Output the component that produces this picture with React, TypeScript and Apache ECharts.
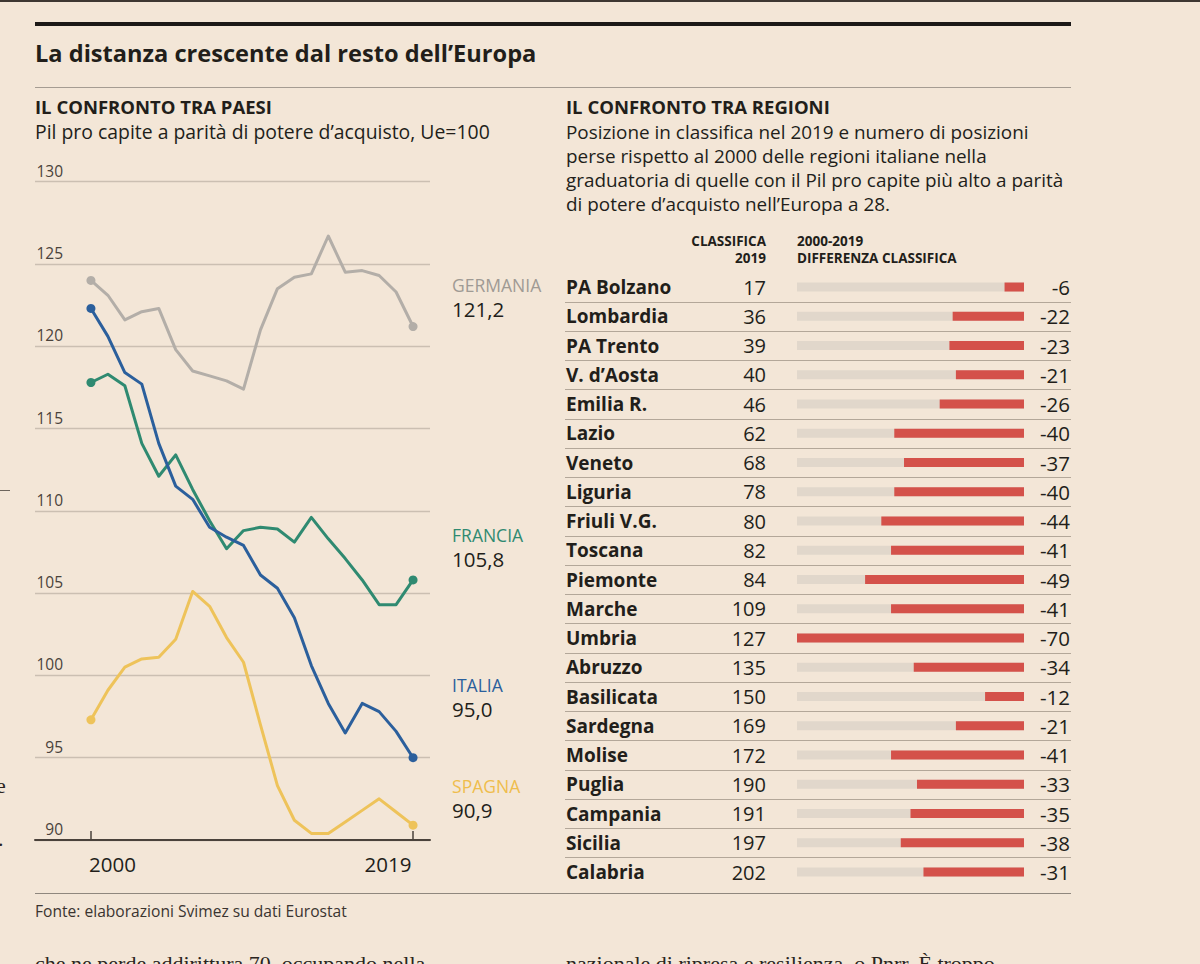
import React, { useEffect, useRef } from "react";
import * as echarts from "echarts";

// ---- Left panel: GDP per capita in PPS, EU = 100 ----
const years = [
  2000, 2001, 2002, 2003, 2004, 2005, 2006, 2007, 2008, 2009,
  2010, 2011, 2012, 2013, 2014, 2015, 2016, 2017, 2018, 2019,
];
const germania = [
  124.0, 123.1, 121.6, 122.1, 122.3, 119.8, 118.5, 118.2, 117.9, 117.4,
  121.0, 123.5, 124.2, 124.4, 126.7, 124.5, 124.6, 124.3, 123.3, 121.2,
];
const francia = [
  117.8, 118.3, 117.6, 114.1, 112.1, 113.4, 111.3, 109.4, 107.7, 108.8,
  109.0, 108.9, 108.1, 109.6, 108.3, 107.1, 105.8, 104.3, 104.3, 105.8,
];
const italia = [
  122.3, 120.6, 118.4, 117.7, 114.1, 111.5, 110.7, 109.0, 108.4, 107.9,
  106.1, 105.3, 103.5, 100.6, 98.3, 96.5, 98.3, 97.8, 96.6, 95.0,
];
const spagna = [
  97.3, 99.1, 100.5, 101.0, 101.1, 102.2, 105.1, 104.2, 102.3, 100.8,
  97.0, 93.3, 91.2, 90.4, 90.4, 91.1, 91.8, 92.5, 91.7, 90.9,
];
const xTickYears = [2000, 2019];

// ---- Right panel: regional ranking ----
const regions = [
  "PA Bolzano", "Lombardia", "PA Trento", "V. d\u2019Aosta", "Emilia R.",
  "Lazio", "Veneto", "Liguria", "Friuli V.G.", "Toscana", "Piemonte",
  "Marche", "Umbria", "Abruzzo", "Basilicata", "Sardegna", "Molise",
  "Puglia", "Campania", "Sicilia", "Calabria",
];
const rank2019 = [
  17, 36, 39, 40, 46, 62, 68, 78, 80, 82, 84,
  109, 127, 135, 150, 169, 172, 190, 191, 197, 202,
];
const rankChange = [
  -6, -22, -23, -21, -26, -40, -37, -40, -44, -41, -49,
  -41, -70, -34, -12, -21, -41, -33, -35, -38, -31,
];

const FONT = "'Open Sans', 'Noto Sans', sans-serif";
const SERIF = "'Liberation Serif', 'DejaVu Serif', serif";
const INK = "#221e1a";
const BG = "#f3e6d7";
const GRID_LINE = "#cbbfb2";
const SEP_LINE = "#b3a799";

const fmt = (v: number) => v.toFixed(1).replace(".", ",");

function countrySeries(
  name: string,
  values: number[],
  color: string,
  labelColor: string,
  labelOffsetY: number
) {
  const last = values.length - 1;
  return {
    type: "line",
    name,
    xAxisIndex: 0,
    yAxisIndex: 0,
    data: years.map((y, i) => [y, values[i]]),
    lineStyle: { color, width: 3, join: "round" },
    itemStyle: { color },
    symbol: "circle",
    showAllSymbol: true,
    symbolSize: (_v: unknown, p: { dataIndex: number }) =>
      p.dataIndex === 0 || p.dataIndex === last ? 9 : 0,
    emphasis: { disabled: true },
    silent: true,
    endLabel: {
      show: true,
      distance: 0,
      offset: [39, labelOffsetY],
      align: "left",
      verticalAlign: "middle",
      formatter: (p: { value: number[] }) =>
        `{n|${name.toUpperCase()}}\n{v|${fmt(p.value[1])}}`,
      rich: {
        n: { fontFamily: FONT, fontSize: 17.5, color: labelColor, lineHeight: 24 },
        v: { fontFamily: FONT, fontSize: 20.5, color: INK, lineHeight: 24 },
      },
    },
  };
}

export default function App() {
  const ref = useRef<HTMLDivElement>(null);

  useEffect(() => {
    document.body.style.margin = "0";
    document.body.style.background = BG;
    if (!ref.current) return;
    const chart = echarts.init(ref.current, undefined, { renderer: "svg" });

    const text = (
      x: number,
      y: number,
      t: string,
      font: string,
      fill = INK,
      align = "left",
      lineHeight?: number
    ) => ({
      type: "text",
      x,
      y,
      silent: true,
      style: {
        text: t,
        font,
        fill,
        textAlign: align,
        textVerticalAlign: "middle",
        ...(lineHeight ? { lineHeight } : {}),
      },
    });

    const paragraph = [
      "Posizione in classifica nel 2019 e numero di posizioni",
      "perse rispetto al 2000 delle regioni italiane nella",
      "graduatoria di quelle con il Pil pro capite pi\u00f9 alto a parit\u00e0",
      "di potere d\u2019acquisto nell\u2019Europa a 28.",
    ];

    chart.setOption({
      animation: false,
      backgroundColor: BG,
      textStyle: { fontFamily: FONT },
      grid: [
        { left: 35, top: 181.7, width: 395, height: 658.3, containLabel: false },
        { left: 797, top: 272.4, width: 227, height: 614.25, containLabel: false },
      ],
      xAxis: [
        {
          type: "value",
          gridIndex: 0,
          min: 1996.7,
          max: 2020,
          splitLine: { show: false },
          axisLine: { show: true, lineStyle: { color: "#4a423b", width: 2 } },
          axisTick: {
            show: true,
            inside: true,
            length: 9,
            customValues: xTickYears,
            lineStyle: { color: "#4a423b", width: 1.5 },
          },
          axisLabel: {
            show: true,
            customValues: xTickYears,
            margin: 13,
            formatter: (v: number) =>
              v === xTickYears[0] ? `{l|${v}}` : `{r|${v}}`,
            rich: {
              l: { fontFamily: FONT, fontSize: 20.5, color: INK, padding: [0, 0, 0, 43] },
              r: { fontFamily: FONT, fontSize: 20.5, color: INK, padding: [0, 50, 0, 0] },
            },
          },
        },
        {
          type: "value",
          gridIndex: 1,
          min: -70,
          max: 0,
          show: false,
        },
      ],
      yAxis: [
        {
          type: "value",
          gridIndex: 0,
          min: 90,
          max: 130,
          interval: 5,
          axisLine: { show: false },
          axisTick: { show: false },
          splitLine: { show: true, lineStyle: { color: GRID_LINE, width: 1.3 } },
          axisLabel: {
            inside: true,
            margin: 28,
            align: "right",
            verticalAlign: "bottom",
            padding: [0, 0, 3, 0],
            fontFamily: FONT,
            fontSize: 15.5,
            color: "#4a423b",
            showMinLabel: true,
            showMaxLabel: true,
          },
        },
        {
          type: "category",
          gridIndex: 1,
          inverse: true,
          data: regions,
          axisLine: { show: false },
          axisTick: { show: false },
          axisLabel: {
            margin: 31,
            interval: 0,
            formatter: (v: string, i: number) => `{n|${v}}{r|${rank2019[i]}}`,
            rich: {
              n: {
                width: 160,
                align: "left",
                fontFamily: FONT,
                fontWeight: "bold",
                fontSize: 19,
                color: INK,
              },
              r: { width: 40, align: "right", fontFamily: FONT, fontSize: 20, color: INK },
            },
          },
        },
        {
          type: "category",
          gridIndex: 1,
          position: "right",
          inverse: true,
          data: regions,
          axisLine: { show: false },
          axisTick: { show: false },
          axisLabel: {
            margin: 6,
            interval: 0,
            formatter: (_v: string, i: number) => `{v|${rankChange[i]}}`,
            rich: {
              v: { width: 40, align: "right", fontFamily: FONT, fontSize: 20.5, color: INK },
            },
          },
        },
      ],
      series: [
        countrySeries("Germania", germania, "#b3aea8", "#9f9a94", -30),
        countrySeries("Spagna", spagna, "#eec35a", "#efbd4c", -27),
        countrySeries("Francia", francia, "#2f8a71", "#2f8a71", -33),
        countrySeries("Italia", italia, "#2b5f9c", "#2b5f9c", -61),
        {
          type: "bar",
          xAxisIndex: 1,
          yAxisIndex: 1,
          data: rankChange,
          barWidth: 9,
          itemStyle: { color: "#d4514a" },
          showBackground: true,
          backgroundStyle: { color: "#e1d7cb" },
          silent: true,
        },
        {
          // row separators across the whole table width
          type: "custom",
          xAxisIndex: 1,
          yAxisIndex: 1,
          data: regions.map((_r, i) => [0, i]),
          encode: { x: 0, y: 1 },
          silent: true,
          clip: false,
          renderItem: (params: { dataIndex: number }, api: any) => {
            const i = params.dataIndex;
            if (i >= regions.length - 1) return null;
            const c = api.coord([0, i]);
            const band = api.size([0, 1])[1];
            const y = Math.round(c[1] + band / 2) + 0.5;
            return {
              type: "line",
              shape: { x1: 565, y1: y, x2: 1071, y2: y },
              style: { stroke: SEP_LINE, lineWidth: 1 },
            };
          },
        },
      ],
      graphic: [
        { type: "rect", silent: true, shape: { x: 0, y: 0, width: 1200, height: 2 }, style: { fill: "#3d3732" } },
        { type: "rect", silent: true, shape: { x: 35, y: 22, width: 1036, height: 4 }, style: { fill: "#1c1917" } },
        text(35, 53, "La distanza crescente dal resto dell\u2019Europa", `bold 23.6px ${FONT}`),
        { type: "line", silent: true, shape: { x1: 35, y1: 87.5, x2: 1071, y2: 87.5 }, style: { stroke: "#a59c92", lineWidth: 1 } },
        text(35, 106.5, "IL CONFRONTO TRA PAESI", `bold 18.5px ${FONT}`),
        text(35, 131, "Pil pro capite a parit\u00e0 di potere d\u2019acquisto, Ue=100", `19.4px ${FONT}`),
        text(566, 106.5, "IL CONFRONTO TRA REGIONI", `bold 18.5px ${FONT}`),
        text(566, 168, paragraph.join("\n"), `18.9px ${FONT}`, INK, "left", 24),
        text(766, 240.5, "CLASSIFICA", `bold 13.5px ${FONT}`, INK, "right"),
        text(766, 257.5, "2019", `bold 13.5px ${FONT}`, INK, "right"),
        text(797, 240.5, "2000-2019", `bold 13.5px ${FONT}`),
        text(797, 257.5, "DIFFERENZA CLASSIFICA", `bold 13.5px ${FONT}`),
        { type: "line", silent: true, shape: { x1: 35, y1: 893.5, x2: 1071, y2: 893.5 }, style: { stroke: "#8f877e", lineWidth: 1 } },
        text(35, 911, "Fonte: elaborazioni Svimez su dati Eurostat", `15.6px ${FONT}`, "#3a3430"),
        // neighbouring article text, cut by the page edges
        text(35, 963, "che ne perde addirittura 70, occupando nella", `22px ${SERIF}`, "#2a2420"),
        text(566, 963, "nazionale di ripresa e resilienza, o Pnrr. \u00c8 troppo", `22px ${SERIF}`, "#2a2420"),
        { type: "line", silent: true, shape: { x1: 0, y1: 490.5, x2: 10, y2: 490.5 }, style: { stroke: "#6d655d", lineWidth: 1 } },
        text(-4, 785, "e", `22px ${SERIF}`, "#2a2420"),
        text(-2, 838, ".", `22px ${SERIF}`, "#2a2420"),
      ],
    });

    return () => chart.dispose();
  }, []);

  return (
    <div
      ref={ref}
      style={{ position: "fixed", left: 0, top: 0, width: 1200, height: 964, background: BG }}
    />
  );
}
